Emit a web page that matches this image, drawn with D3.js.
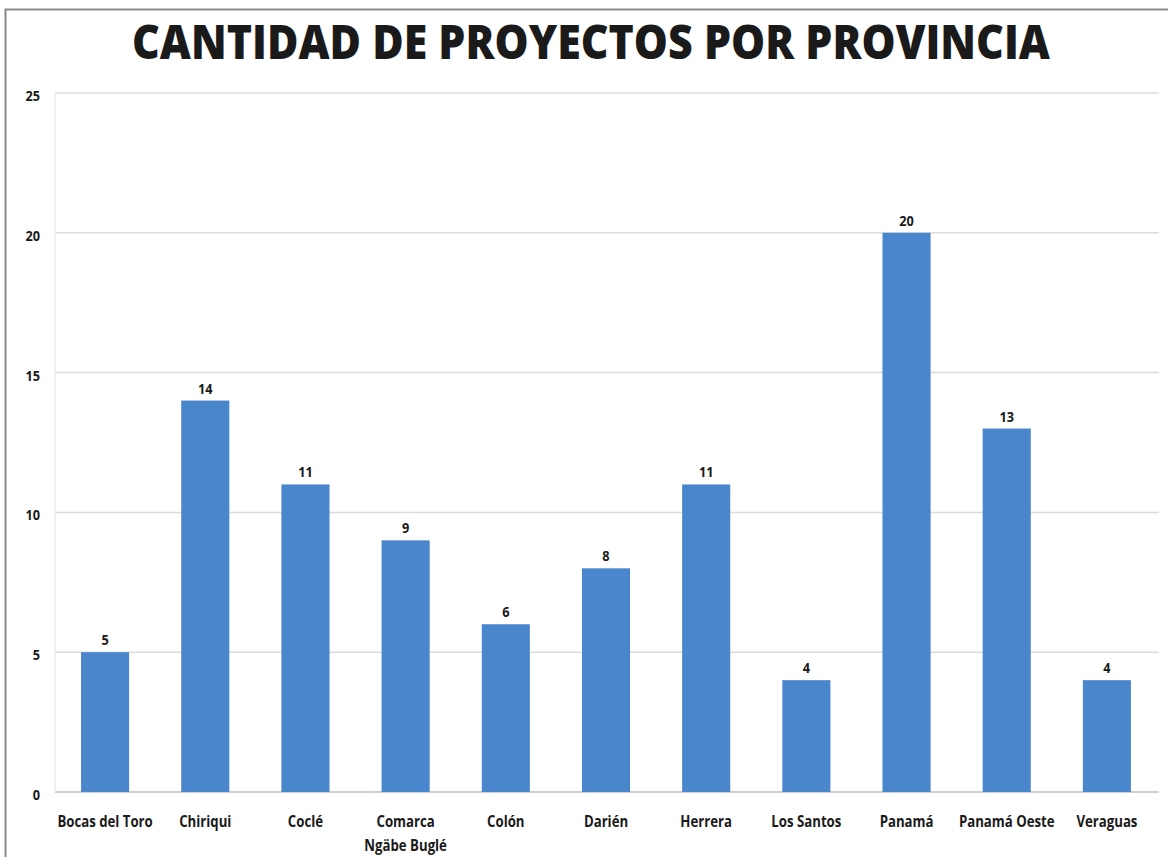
<!DOCTYPE html>
<html><head><meta charset="utf-8">
<script src="https://cdn.jsdelivr.net/npm/d3@7"></script>
<style>body{margin:0;background:#fff}</style>
</head><body>
<svg id="c" width="1171" height="857"></svg>
<script>
const categories = ["Bocas del Toro","Chiriqui","Coclé","Comarca\nNgäbe Buglé","Colón","Darién","Herrera","Los Santos","Panamá","Panamá Oeste","Veraguas"];
const values = [5,14,11,9,6,8,11,4,20,13,4];
const yTicks = [0,5,10,15,20,25];
const title = "CANTIDAD DE PROYECTOS POR PROVINCIA";

const svg = d3.select("#c");
const W = 1171, H = 857;
const m = {left:55, right:14, top:93, bottom:65};
const x = d3.scaleBand().domain(categories).range([m.left, W-m.right]).paddingInner(0.52).paddingOuter(0.26);
const y = d3.scaleLinear().domain([0,25]).range([H-m.bottom, m.top]);
const FONT = "'Open Sans','DejaVu Sans Condensed',sans-serif";

// frame
svg.append("path").attr("d",`M5.5,${H} L5.5,9.5 L1168,9.5`).attr("fill","none").attr("stroke","#8a8a8a").attr("stroke-width",2);

svg.append("text").attr("x",591).attr("y",59).attr("text-anchor","middle")
  .attr("font-family","'Open Sans', sans-serif").attr("font-weight",800).attr("font-size",47)
  .attr("textLength",918).attr("lengthAdjust","spacingAndGlyphs").attr("fill","#1a1a1a").text(title);

const grid = svg.append("g");
grid.selectAll("line").data(yTicks).join("line")
  .attr("x1",m.left).attr("x2",W-m.right+2)
  .attr("y1",d=>y(d)).attr("y2",d=>y(d))
  .attr("stroke",d=>d===0?"#bfbfbf":"#dcdcdc").attr("stroke-width",1.5);
svg.append("line").attr("x1",m.left).attr("x2",m.left).attr("y1",y(25)).attr("y2",y(0))
  .attr("stroke","#ececec").attr("stroke-width",1.5);

const yAxis = d3.axisLeft(y).tickValues(yTicks).tickSize(0).tickPadding(0);
const ya = svg.append("g").attr("transform",`translate(40,0)`).call(yAxis);
ya.select(".domain").remove();
ya.selectAll("text").attr("font-family",FONT)
  .attr("font-weight",700).attr("font-size",15).attr("fill","#1a1a1a").attr("dy","0.5em")
  .attr("transform","scale(0.85,1)");

svg.append("g").selectAll("text").data(values).join("text")
  .attr("transform",(d,i)=>`translate(${x(categories[i])+x.bandwidth()/2},${y(d)-7}) scale(0.85,1)`)
  .attr("text-anchor","middle")
  .attr("font-family",FONT)
  .attr("font-weight",700).attr("font-size",15).attr("fill","#1a1a1a").text(d=>d);

svg.append("g").selectAll("rect").data(values).join("rect")
  .attr("x",(d,i)=>x(categories[i])).attr("width",x.bandwidth())
  .attr("y",d=>y(d)).attr("height",d=>y(0)-y(d))
  .attr("fill","#4a86cc");

const xAxis = d3.axisBottom(x).tickSize(0).tickPadding(0);
const xa = svg.append("g").attr("transform",`translate(0,${y(0)})`).call(xAxis);
xa.select(".domain").remove();
xa.selectAll("text").each(function(d){
  const t = d3.select(this).text(null).attr("y",0).attr("dy",null)
    .attr("font-family",FONT).attr("transform","scale(0.8,1)")
    .attr("font-weight",700).attr("font-size",16.5).attr("fill","#1a1a1a");
  d.split("\n").forEach((s,i)=>t.append("tspan").attr("x",0).attr("y",35+i*24).text(s));
});
</script>
</body></html>
